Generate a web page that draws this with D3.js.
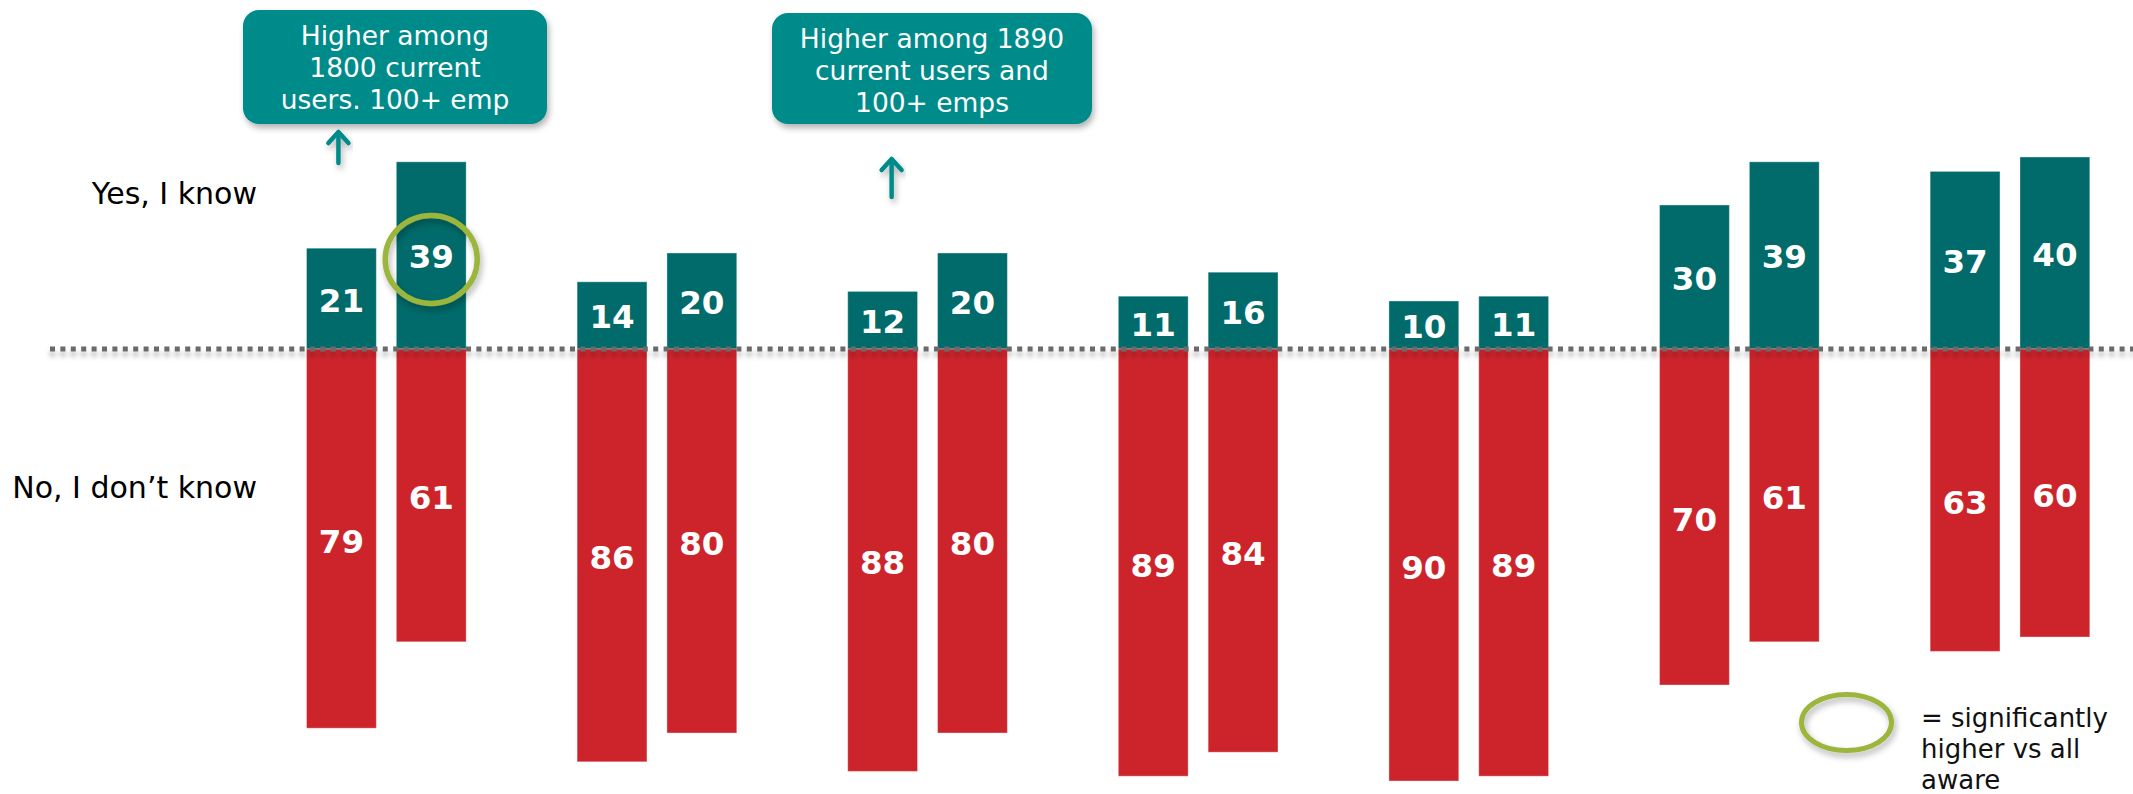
<!DOCTYPE html>
<html>
<head>
<meta charset="utf-8">
<script src="https://cdn.jsdelivr.net/npm/d3@7"></script>
<style>
  html, body { margin: 0; padding: 0; background: #fff; }
  svg { display: block; font-family: "DejaVu Sans", Verdana, sans-serif; }
</style>
</head>
<body>
<svg id="chart" width="2133" height="794"></svg>
<script>
// Awareness by segment: share who know (up) vs don't know (down), two bars per segment
const groups = ["g1", "g2", "g3", "g4", "g5", "g6", "g7"];
const pairs = [0, 1];
const yesValues = [[21, 39], [14, 20], [12, 20], [11, 16], [10, 11], [30, 39], [37, 40]];
const noValues  = [[79, 61], [86, 80], [88, 80], [89, 84], [90, 89], [70, 61], [63, 60]];
const sideLabels = ["Yes, I know", "No, I don\u2019t know"];

// Significance markers: [group index, bar index]
const significant = [[0, 1]];

// Callouts pointing at a bar: group, bar, text lines
const callouts = [
  { group: 0, bar: 0, lines: ["Higher among", "1800 current", "users. 100+ emp"] },
  { group: 2, bar: 0, lines: ["Higher among 1890", "current users and", "100+ emps"] }
];
const legendLines = ["= significantly", "higher vs all", "aware"];

const TEAL = "#006b6a", RED = "#cd242c", CALLOUT = "#008b8b", GREEN = "#9bb53c";

const svg = d3.select("#chart");
const defs = svg.append("defs");

const shadow = defs.append("filter").attr("id", "shadow")
  .attr("x", "-20%").attr("y", "-20%").attr("width", "140%").attr("height", "160%");
shadow.append("feDropShadow").attr("dx", 2).attr("dy", 4).attr("stdDeviation", 3)
  .attr("flood-color", "#000").attr("flood-opacity", 0.3);

// Shadow for the zero line, in user space since the line has no height
const lineShadow = defs.append("filter").attr("id", "lineShadow")
  .attr("filterUnits", "userSpaceOnUse")
  .attr("x", 0).attr("y", 320).attr("width", 2133).attr("height", 60);
lineShadow.append("feDropShadow").attr("dx", 0).attr("dy", 5).attr("stdDeviation", 2.5)
  .attr("flood-color", "#000").attr("flood-opacity", 0.3);

// Scales
const x = d3.scaleBand().domain(groups).range([306.5, 2089.8]).paddingInner(0.41).paddingOuter(0);
const xi = d3.scaleBand().domain(pairs).range([0, x.bandwidth()]).paddingInner(0.2226).paddingOuter(0);
const y = d3.scaleLinear().domain([-100, 100]).range([829, -131]);

// Bars
const g = svg.selectAll("g.group").data(groups).join("g")
  .attr("class", "group")
  .attr("transform", d => `translate(${x(d)},0)`);

g.each(function (gname, gi) {
  const sel = d3.select(this);
  const data = pairs.map(p => ({ p, yes: yesValues[gi][p], no: noValues[gi][p] }));

  sel.selectAll("rect.yes").data(data).join("rect")
    .attr("class", "yes")
    .attr("x", d => xi(d.p)).attr("width", xi.bandwidth())
    .attr("y", d => y(d.yes)).attr("height", d => y(0) - y(d.yes))
    .attr("fill", TEAL).attr("stroke", "rgba(255,255,255,0.35)").attr("stroke-width", 1);

  sel.selectAll("rect.no").data(data).join("rect")
    .attr("class", "no")
    .attr("x", d => xi(d.p)).attr("width", xi.bandwidth())
    .attr("y", y(0)).attr("height", d => y(-d.no) - y(0))
    .attr("fill", RED).attr("stroke", "rgba(255,255,255,0.35)").attr("stroke-width", 1);

  sel.selectAll("text.yesv").data(data).join("text")
    .attr("class", "yesv")
    .attr("x", d => xi(d.p) + xi.bandwidth() / 2)
    .attr("y", d => (y(d.yes) + y(0)) / 2 + 13)
    .attr("text-anchor", "middle").attr("fill", "#fff")
    .attr("font-size", 32.5).attr("font-weight", "bold")
    .text(d => d.yes);

  sel.selectAll("text.nov").data(data).join("text")
    .attr("class", "nov")
    .attr("x", d => xi(d.p) + xi.bandwidth() / 2)
    .attr("y", d => (y(0) + y(-d.no)) / 2 + 14)
    .attr("text-anchor", "middle").attr("fill", "#fff")
    .attr("font-size", 32.5).attr("font-weight", "bold")
    .text(d => d.no);
});

// Dotted zero line
svg.append("line")
  .attr("x1", 50).attr("x2", 2133).attr("y1", y(0)).attr("y2", y(0))
  .attr("stroke", "#6a6a6a").attr("stroke-width", 5)
  .attr("stroke-dasharray", "5 5.4")
  .attr("filter", "url(#lineShadow)");

// Side labels
svg.append("text").attr("x", 257).attr("y", 204).attr("text-anchor", "end")
  .attr("font-size", 30).attr("fill", "#000").text(sideLabels[0]);
svg.append("text").attr("x", 257).attr("y", 498).attr("text-anchor", "end")
  .attr("font-size", 30).attr("fill", "#000").text(sideLabels[1]);

// Significance circles
significant.forEach(([gi, bi]) => {
  const cx = x(groups[gi]) + xi(bi) + xi.bandwidth() / 2;
  const cy = (y(yesValues[gi][bi]) + y(0)) / 2 + 4;
  svg.append("ellipse").attr("cx", cx).attr("cy", cy).attr("rx", 46).attr("ry", 44)
    .attr("fill", "none").attr("stroke", GREEN).attr("stroke-width", 5.5)
    .attr("filter", "url(#shadow)");
});

// Callouts with arrows
const boxes = [
  { cx: 395, top: 10, w: 304, h: 114, arrowDx: -3, arrowTop: 132, arrowBottom: 163 },
  { cx: 932, top: 13, w: 320, h: 111, arrowDx: 9, arrowTop: 159, arrowBottom: 197 }
];
callouts.forEach((c, i) => {
  const b = boxes[i];
  const cg = svg.append("g").attr("filter", "url(#shadow)");
  cg.append("rect").attr("x", b.cx - b.w / 2).attr("y", b.top)
    .attr("width", b.w).attr("height", b.h).attr("rx", 16)
    .attr("fill", CALLOUT);
  const t = svg.append("text").attr("text-anchor", "middle").attr("fill", "#fff")
    .attr("font-size", 26.5);
  c.lines.forEach((ln, k) => {
    t.append("tspan").attr("x", b.cx).attr("y", b.top + 35 + k * 32).text(ln);
  });

  const ax = x(groups[c.group]) + xi(c.bar) + xi.bandwidth() / 2 + b.arrowDx;
  const ag = svg.append("g").attr("filter", "url(#shadow)")
    .attr("stroke", CALLOUT).attr("stroke-width", 4.5).attr("fill", "none")
    .attr("stroke-linecap", "round").attr("stroke-linejoin", "round");
  ag.append("line").attr("x1", ax).attr("x2", ax).attr("y1", b.arrowBottom).attr("y2", b.arrowTop + 1);
  ag.append("path").attr("d", `M${ax - 10},${b.arrowTop + 11} L${ax},${b.arrowTop} L${ax + 10},${b.arrowTop + 11}`);
});

// Legend
svg.append("ellipse").attr("cx", 1846.5).attr("cy", 722.5).attr("rx", 45).attr("ry", 28)
  .attr("fill", "none").attr("stroke", GREEN).attr("stroke-width", 5)
  .attr("filter", "url(#shadow)");
const lt = svg.append("text").attr("font-size", 26).attr("fill", "#111");
legendLines.forEach((ln, k) => {
  lt.append("tspan").attr("x", 1921).attr("y", 727 + k * 31).text(ln);
});
</script>
</body>
</html>
